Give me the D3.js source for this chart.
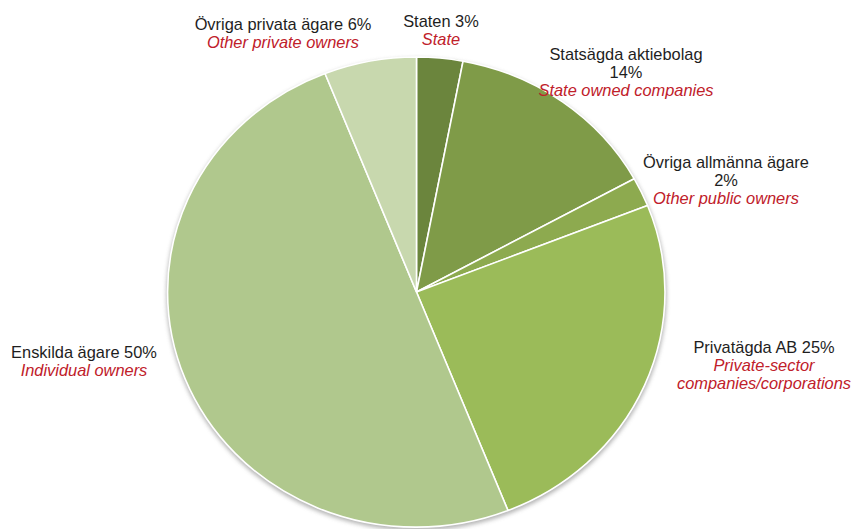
<!DOCTYPE html>
<html>
<head>
<meta charset="utf-8">
<script src="https://cdn.jsdelivr.net/npm/d3@7"></script>
<style>
  html, body { margin: 0; padding: 0; background: #ffffff; }
  svg { display: block; }
</style>
</head>
<body>
<svg id="chart" width="854" height="529"></svg>
<script>
// ---- Data ----
const categoriesSv = ["Staten", "Statsägda aktiebolag", "Övriga allmänna ägare", "Privatägda AB", "Enskilda ägare", "Övriga privata ägare"];
const categoriesEn = ["State", "State owned companies", "Other public owners", "Private-sector companies/corporations", "Individual owners", "Other private owners"];
const shares = [3, 14, 2, 25, 50, 6];
const percentLabels = ["3%", "14%", "2%", "25%", "50%", "6%"];

// ---- Styling ----
const colors = ["#6b853d", "#7f9b48", "#8daa4f", "#9bbb59", "#b0c88d", "#c8d8ae"];
const cx = 416.5, cy = 292, rx = 248.5, ry = 235;

// label layout: x center, first baseline, lines (text + colour key)
const labelLayout = [
  { x: 441, y: 27, lines: [["sv+p", "k"], ["en", "r"]] },
  { x: 626, y: 60, lines: [["sv", "k"], ["p", "k"], ["en", "r"]] },
  { x: 726, y: 168, lines: [["sv", "k"], ["p", "k"], ["en", "r"]] },
  { x: 764, y: 353, lines: [["sv+p", "k"], ["Private-sector", "r"], ["companies/corporations", "r"]] },
  { x: 84, y: 358, lines: [["sv+p", "k"], ["en", "r"]] },
  { x: 283, y: 30, lines: [["sv+p", "k"], ["en", "r"]] }
];
const lineHeight = 18;
const textColors = { k: "#1e1e1e", r: "#c0202a" };

const svg = d3.select("#chart");
const defs = svg.append("defs");
const f = defs.append("filter").attr("id", "shadow").attr("x", "-10%").attr("y", "-10%").attr("width", "120%").attr("height", "120%");
f.append("feGaussianBlur").attr("stdDeviation", 2.2);

// shadow ellipse
svg.append("ellipse")
  .attr("cx", cx).attr("cy", cy + 2.5)
  .attr("rx", rx + 1.5).attr("ry", ry + 1)
  .attr("fill", "#9a9a9a")
  .attr("opacity", 0.75)
  .attr("filter", "url(#shadow)");

const pie = d3.pie().sort(null).value(d => d);
const arc = d3.arc().innerRadius(0).outerRadius(rx);

const g = svg.append("g")
  .attr("transform", `translate(${cx},${cy}) scale(1,${ry / rx})`);

g.selectAll("path")
  .data(pie(shares))
  .join("path")
  .attr("d", arc)
  .attr("fill", (d, i) => colors[i])
  .attr("stroke", "#ffffff")
  .attr("stroke-width", 1.6)
  .attr("vector-effect", "non-scaling-stroke")
  .attr("stroke-linejoin", "round");

// labels
labelLayout.forEach((L, i) => {
  const t = svg.append("text")
    .attr("text-anchor", "middle")
    .attr("font-family", "Liberation Sans, Arial, sans-serif")
    .attr("font-size", 16.4);
  L.lines.forEach((ln, j) => {
    let txt = ln[0];
    if (txt === "sv+p") txt = categoriesSv[i] + " " + percentLabels[i];
    else if (txt === "sv") txt = categoriesSv[i];
    else if (txt === "p") txt = percentLabels[i];
    else if (txt === "en") txt = categoriesEn[i];
    t.append("tspan")
      .attr("x", L.x)
      .attr("y", L.y + j * lineHeight)
      .attr("fill", textColors[ln[1]])
      .attr("font-style", ln[1] === "r" ? "italic" : "normal")
      .text(txt);
  });
});
</script>
</body>
</html>
